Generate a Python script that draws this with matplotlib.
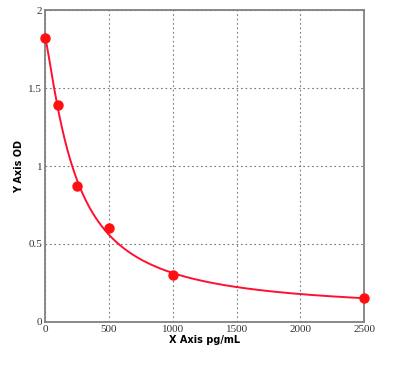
import numpy as np
import matplotlib
matplotlib.use("Agg")
from matplotlib import pyplot as plt

# standards
conc = [0, 100, 250, 500, 1000, 2500]
od = [1.82, 1.39, 0.87, 0.60, 0.30, 0.15]

x_ticks = [0, 500, 1000, 1500, 2000, 2500]
y_ticks = [0, 0.5, 1, 1.5, 2]
y_tick_labels = ["0", "0.5", "1", "1.5", "2"]


def four_pl(x, p):
    a, b, c, d = p
    return d + (a - d) / (1 + (np.maximum(x, 0) / c) ** b)


# least squares 4PL fit, small Levenberg-Marquardt loop
xs = np.array(conc, dtype=float)
ys = np.array(od)
p = np.array([ys[0], 1.1, 250.0, 0.0])
lam = 1e-3
for _ in range(500):
    r = ys - four_pl(xs, p)
    J = np.empty((len(xs), 4))
    for k in range(4):
        dp = np.zeros(4)
        dp[k] = 1e-6 * max(abs(p[k]), 1)
        J[:, k] = (four_pl(xs, p + dp) - four_pl(xs, p)) / dp[k]
    A = J.T @ J
    step = np.linalg.solve(A + lam * np.diag(np.diag(A)), J.T @ r)
    pn = p + step
    if pn[2] > 0 and np.sum((ys - four_pl(xs, pn)) ** 2) < np.sum(r ** 2):
        p = pn
        lam *= 0.5
    else:
        lam *= 4

xfit = np.linspace(0, 2500, 500)
yfit = four_pl(xfit, p)

fig = plt.figure(figsize=(3.99, 3.76), dpi=100)
ax = fig.add_axes([0.113, 0.144, 0.8, 0.829])

ax.plot(xfit, yfit, color="#ff1030", lw=1.4, zorder=3)
ax.plot(conc, od, "o", color="#ff1010", ms=6.5, zorder=4, clip_on=False)

ax.set_xlim(0, 2500)
ax.set_ylim(0, 2)
ax.set_xticks(x_ticks)
ax.set_yticks(y_ticks)
ax.set_yticklabels(y_tick_labels)
ax.tick_params(length=0, labelsize=8, labelcolor="#333333", pad=2)
for lab in ax.get_xticklabels() + ax.get_yticklabels():
    lab.set_family("Liberation Serif")

ax.grid(True, color="#777777", ls=(0, (1.5, 2.5)), lw=0.8)
for sp in ax.spines.values():
    sp.set_color("#808080")
    sp.set_linewidth(1.3)

ax.set_xlabel("X Axis pg/mL", fontsize=7, fontweight="bold", labelpad=1)
ax.set_ylabel("Y Axis OD", fontsize=7, fontweight="bold", labelpad=3)

fig.savefig("out.png", dpi=100)
